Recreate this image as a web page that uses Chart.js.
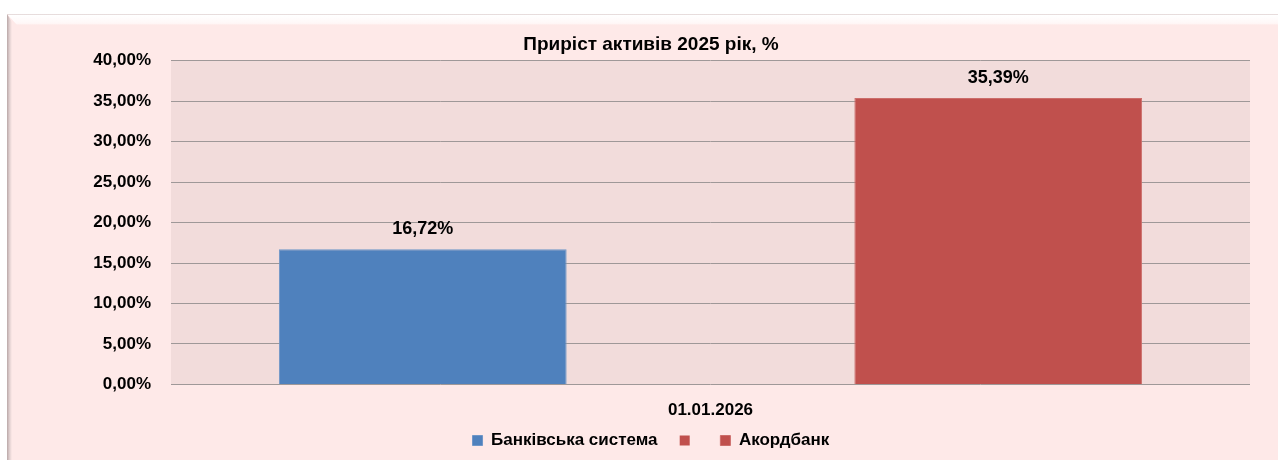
<!DOCTYPE html>
<html>
<head>
<meta charset="utf-8">
<script src="https://cdn.jsdelivr.net/npm/chart.js@4/dist/chart.umd.min.js"></script>
<style>
html,body{margin:0;padding:0;background:#ffffff;}
#wrap{width:1278px;height:460px;position:relative;}
</style>
</head>
<body>
<div id="wrap"><canvas id="c" width="1278" height="460"></canvas></div>
<script>
const categories = ["01.01.2026"];
const seriesNames = ["Банківська система", "", "Акордбанк"];
const bankSystem = [16.72];
const emptySeries = [null];
const akordbank = [35.39];
const titleText = "Приріст активів 2025 рік, %";
const yTicks = [0, 5, 10, 15, 20, 25, 30, 35, 40];

const FONT = "'Liberation Sans', Arial, sans-serif";
const fmt = v => v.toFixed(2).replace('.', ',') + '%';

const framePlugin = {
  id: 'frame',
  beforeDraw(chart) {
    const ctx = chart.ctx;
    const W = chart.width, H = chart.height;
    ctx.save();
    ctx.fillStyle = '#ffffff';
    ctx.fillRect(0, 0, W, H);
    ctx.fillStyle = '#FEE9E8';
    ctx.fillRect(7, 14, W - 7, H - 14);
    const g = ctx.createLinearGradient(0, 14, 0, 25);
    g.addColorStop(0, '#d9c8c8');
    g.addColorStop(0.12, '#ffffff');
    g.addColorStop(0.85, '#fff7f7');
    g.addColorStop(1, '#FEE9E8');
    ctx.fillStyle = g;
    ctx.beginPath();
    ctx.moveTo(7, 14); ctx.lineTo(W, 14); ctx.lineTo(W, 25); ctx.lineTo(17, 25); ctx.closePath();
    ctx.fill();
    const g2 = ctx.createLinearGradient(7, 0, 12, 0);
    g2.addColorStop(0, '#b9a8a8');
    g2.addColorStop(0.5, '#e0cfcf');
    g2.addColorStop(1, '#FEE9E8');
    ctx.fillStyle = g2;
    ctx.beginPath();
    ctx.moveTo(7, 14); ctx.lineTo(12, 22); ctx.lineTo(12, H); ctx.lineTo(7, H); ctx.closePath();
    ctx.fill();
    const a = chart.chartArea;
    ctx.fillStyle = '#F2DCDB';
    ctx.fillRect(a.left, a.top, a.right - a.left, a.bottom - a.top);
    ctx.restore();
  }
};

const legendShift = {
  id: 'legendShift',
  afterLayout(chart) {
    if (chart.legend) { chart.legend.left += 7; chart.legend.right += 7; }
  }
};

const labelPlugin = {
  id: 'valueLabels',
  afterDatasetsDraw(chart) {
    const ctx = chart.ctx;
    ctx.save();
    ctx.font = "bold 18px " + FONT;
    ctx.fillStyle = '#000000';
    ctx.textAlign = 'center';
    ctx.textBaseline = 'middle';
    chart.data.datasets.forEach((ds, i) => {
      const meta = chart.getDatasetMeta(i);
      meta.data.forEach((bar, j) => {
        const v = ds.data[j];
        if (v === null || v === undefined) return;
        ctx.fillText(fmt(v), bar.x, bar.y - 20);
      });
    });
    ctx.restore();
  }
};

new Chart(document.getElementById('c'), {
  type: 'bar',
  data: {
    labels: categories,
    datasets: [
      { label: seriesNames[0], data: bankSystem, backgroundColor: '#4F81BD', borderColor: '#6f97c8', borderWidth: 1 },
      { label: seriesNames[1], data: emptySeries, backgroundColor: '#C0504D', borderColor: '#C0504D', borderWidth: 0 },
      { label: seriesNames[2], data: akordbank, backgroundColor: '#C0504D', borderColor: '#cc6d6a', borderWidth: 1 }
    ]
  },
  options: {
    responsive: false,
    animation: false,
    devicePixelRatio: 1,
    layout: { padding: { left: 52, right: 28, top: 0, bottom: 1 } },
    datasets: { bar: { categoryPercentage: 0.8, barPercentage: 1.0 } },
    plugins: {
      title: {
        display: true, text: titleText, color: '#000000',
        font: { family: FONT, size: 19, weight: 'bold' },
        padding: { top: 33, bottom: 5 }
      },
      legend: {
        position: 'bottom',
        labels: {
          color: '#000000', boxWidth: 10, boxHeight: 10, padding: 8,
          font: { family: FONT, size: 17, weight: 'bold' },
          generateLabels: chart => Chart.defaults.plugins.legend.labels.generateLabels(chart)
            .map(l => Object.assign(l, { text: l.text + '   ' }))
        }
      },
      tooltip: { enabled: false }
    },
    scales: {
      x: {
        grid: { display: false, drawTicks: false },
        border: { display: false },
        afterFit: s => { s.height = 39.6; },
        ticks: { color: '#000000', padding: 16, autoSkip: false, font: { family: FONT, size: 17, weight: 'bold' } }
      },
      y: {
        min: 0, max: 40,
        afterBuildTicks: s => { s.ticks = yTicks.map(v => ({ value: v })); },
        afterFit: s => { s.width = 119; },
        grid: { color: '#9f9898', lineWidth: 1, drawTicks: false },
        border: { display: false },
        ticks: {
          color: '#000000', padding: 20,
          font: { family: FONT, size: 17, weight: 'bold' },
          callback: v => fmt(v)
        }
      }
    }
  },
  plugins: [framePlugin, legendShift, labelPlugin]
});
</script>
</body>
</html>
